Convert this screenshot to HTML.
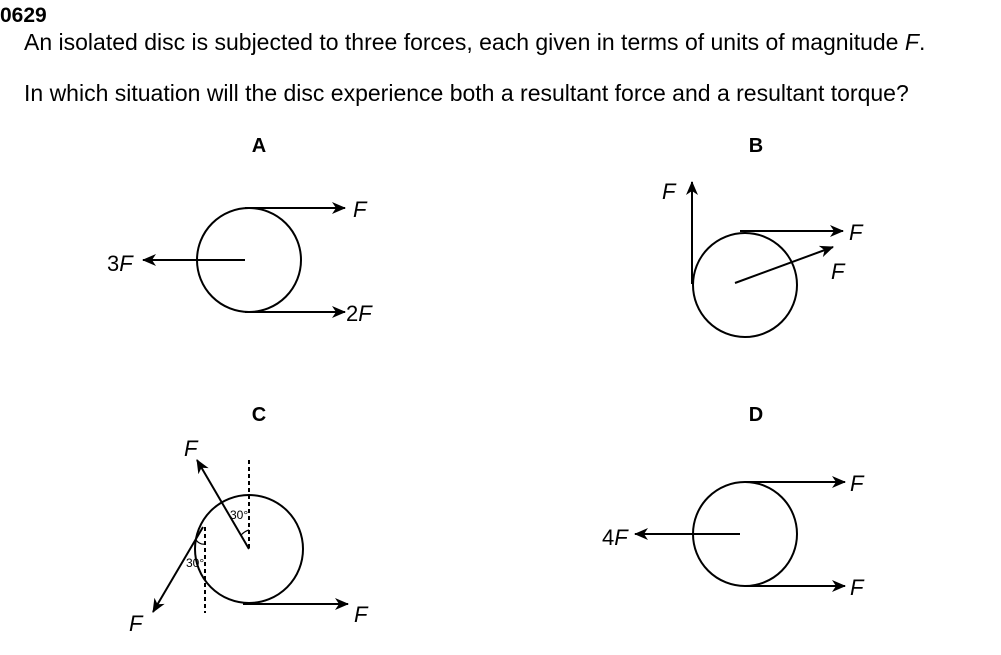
<!DOCTYPE html>
<html><head><style>
body{margin:0;background:#fff;width:1001px;height:650px;overflow:hidden;font-family:"Liberation Sans",Arial,sans-serif}
</style></head><body>
<svg width="1001" height="650" viewBox="0 0 1001 650" xmlns="http://www.w3.org/2000/svg" font-family="Liberation Sans, Arial, sans-serif">
<defs><marker id="a" markerWidth="14" markerHeight="12" refX="13" refY="6" orient="auto" markerUnits="userSpaceOnUse"><path d="M0,0 L14,6 L0,12 L4,6 Z" fill="#000"/></marker></defs>
<text x="0" y="22" font-size="21" font-weight="bold">0629</text>
<text x="24" y="50" font-size="23">An isolated disc is subjected to three forces, each given in terms of units of magnitude <tspan font-style="italic">F</tspan>.</text>
<text x="24" y="101" font-size="23">In which situation will the disc experience both a resultant force and a resultant torque?</text>
<g font-size="20" font-weight="bold" text-anchor="middle"><text x="259" y="152">A</text><text x="756" y="152">B</text><text x="259" y="421">C</text><text x="756" y="421">D</text></g>
<g stroke="#000" stroke-width="2" fill="none">
<circle cx="249" cy="260" r="52"/>
<line x1="245" y1="208" x2="345" y2="208" marker-end="url(#a)"/>
<line x1="245" y1="312" x2="345" y2="312" marker-end="url(#a)"/>
<line x1="245" y1="260" x2="143" y2="260" marker-end="url(#a)"/>
<circle cx="745" cy="285" r="52"/>
<line x1="692" y1="284" x2="692" y2="182" marker-end="url(#a)"/>
<line x1="740" y1="231" x2="843" y2="231" marker-end="url(#a)"/>
<line x1="735" y1="283" x2="833" y2="247" marker-end="url(#a)"/>
<circle cx="249" cy="549" r="54"/>
<line x1="249" y1="549" x2="197" y2="460" marker-end="url(#a)"/>
<line x1="203" y1="527" x2="153" y2="612" marker-end="url(#a)"/>
<line x1="243" y1="604" x2="348" y2="604" marker-end="url(#a)"/>
<line x1="249" y1="460" x2="249" y2="550" stroke-dasharray="4,3"/>
<line x1="205" y1="527" x2="205" y2="613" stroke-dasharray="4,3"/>
<path d="M241,535 Q245,531 249,530" stroke-width="1.2"/>
<path d="M196,540 Q200,545 205,544" stroke-width="1.2"/>
<circle cx="745" cy="534" r="52"/>
<line x1="745" y1="482" x2="845" y2="482" marker-end="url(#a)"/>
<line x1="745" y1="586" x2="845" y2="586" marker-end="url(#a)"/>
<line x1="740" y1="534" x2="635" y2="534" marker-end="url(#a)"/>
</g>
<g font-size="22" font-style="italic">
<text x="353" y="217">F</text>
<text x="107" y="271" font-style="normal">3<tspan font-style="italic">F</tspan></text>
<text x="346" y="321" font-style="normal">2<tspan font-style="italic">F</tspan></text>
<text x="662" y="199">F</text><text x="849" y="240">F</text><text x="831" y="279">F</text>
<text x="184" y="456">F</text><text x="129" y="631">F</text><text x="354" y="622">F</text>
<text x="850" y="491">F</text><text x="850" y="595">F</text>
<text x="602" y="545" font-style="normal">4<tspan font-style="italic">F</tspan></text>
</g>
<g font-size="12"><text x="230" y="519">30°</text><text x="186" y="567">30°</text></g>
</svg>
</body></html>
